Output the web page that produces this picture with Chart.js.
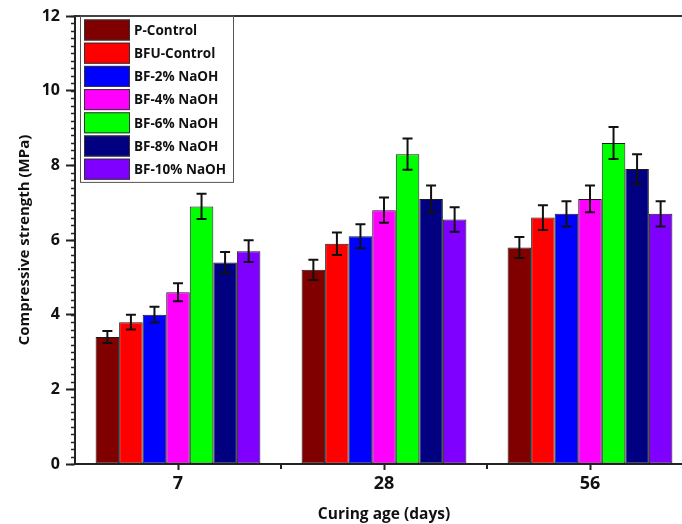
<!DOCTYPE html>
<html lang="en">
<head>
    <meta charset="UTF-8">
    <title>Compressive strength</title>
    <script src="https://cdn.jsdelivr.net/npm/chart.js"></script>
    <style>
        body {
            margin: 0;
            background: #fff;
            overflow: hidden;
        }
        .chart-box {
            width: 700px;
            height: 524px;
        }
    </style>
</head>
<body>
    <div class="chart-box">
        <canvas id="barChart" width="700" height="524"></canvas>
    </div>

    <script>
        // data
        var categories = ['7', '28', '56'];
        var seriesNames = ['P-Control', 'BFU-Control', 'BF-2% NaOH', 'BF-4% NaOH', 'BF-6% NaOH', 'BF-8% NaOH', 'BF-10% NaOH'];
        var pControl = [3.4, 5.2, 5.8];
        var bfuControl = [3.8, 5.9, 6.6];
        var bf2 = [4.0, 6.1, 6.7];
        var bf4 = [4.6, 6.8, 7.1];
        var bf6 = [6.9, 8.3, 8.6];
        var bf8 = [5.4, 7.1, 7.9];
        var bf10 = [5.7, 6.55, 6.7];
        // error bar half heights
        var pControlErr = [0.16, 0.27, 0.28];
        var bfuControlErr = [0.2, 0.3, 0.33];
        var bf2Err = [0.21, 0.32, 0.34];
        var bf4Err = [0.24, 0.34, 0.36];
        var bf6Err = [0.34, 0.42, 0.43];
        var bf8Err = [0.28, 0.36, 0.4];
        var bf10Err = [0.29, 0.33, 0.34];
        var yTicks = [0, 2, 4, 6, 8, 10, 12];

        var colors = ['#800000', '#ff0000', '#0000ff', '#ff00ff', '#00ff00', '#000080', '#8000ff'];
        var values = [pControl, bfuControl, bf2, bf4, bf6, bf8, bf10];
        var errors = [pControlErr, bfuControlErr, bf2Err, bf4Err, bf6Err, bf8Err, bf10Err];

        var datasets = seriesNames.map(function (name, i) {
            return {
                label: name,
                data: values[i],
                errors: errors[i],
                backgroundColor: colors[i],
                borderColor: '#1a1a1a',
                borderWidth: 1,
                borderSkipped: false,
                categoryPercentage: 0.8,
                barPercentage: 1.0
            };
        });

        var axisFont = 'Open Sans';

        // frame, minor ticks, error bars and the boxed legend
        var extrasPlugin = {
            id: 'extras',
            afterDatasetsDraw: function (chart) {
                var ctx = chart.ctx;
                var y = chart.scales.y;
                ctx.save();
                ctx.strokeStyle = '#111';
                ctx.lineWidth = 2;
                chart.data.datasets.forEach(function (ds, di) {
                    var meta = chart.getDatasetMeta(di);
                    meta.data.forEach(function (bar, i) {
                        var top = y.getPixelForValue(ds.data[i] + ds.errors[i]);
                        var bot = y.getPixelForValue(ds.data[i] - ds.errors[i]);
                        ctx.beginPath();
                        ctx.moveTo(bar.x, top);
                        ctx.lineTo(bar.x, bot);
                        ctx.moveTo(bar.x - 5, top);
                        ctx.lineTo(bar.x + 5, top);
                        ctx.moveTo(bar.x - 5, bot);
                        ctx.lineTo(bar.x + 5, bot);
                        ctx.stroke();
                    });
                });
                ctx.restore();
            },
            afterDraw: function (chart) {
                var ctx = chart.ctx;
                var area = chart.chartArea;
                var x = chart.scales.x;
                var y = chart.scales.y;
                ctx.save();

                // top and right frame
                ctx.strokeStyle = '#333';
                ctx.lineWidth = 2;
                ctx.beginPath();
                ctx.moveTo(area.left, area.top);
                ctx.lineTo(area.right, area.top);
                ctx.lineTo(area.right, area.bottom);
                ctx.stroke();

                // minor y ticks
                ctx.lineWidth = 1.5;
                ctx.strokeStyle = '#222';
                for (var v = 0; v <= 12.001; v += 0.2) {
                    var py = Math.round(y.getPixelForValue(v)) + 0.5;
                    ctx.beginPath();
                    ctx.moveTo(area.left - 4, py);
                    ctx.lineTo(area.left, py);
                    ctx.stroke();
                }

                // x ticks halfway between categories
                ctx.lineWidth = 2;
                for (var i = 0; i < categories.length; i++) {
                    var px = (x.getPixelForValue(i) + x.getPixelForValue(i + 1)) / 2;
                    ctx.beginPath();
                    ctx.moveTo(px, area.bottom);
                    ctx.lineTo(px, area.bottom + 5);
                    ctx.stroke();
                }

                // legend box
                var left = area.left + 5;
                var rowH = 23.2;
                var boxW = 153;
                var boxH = rowH * chart.data.datasets.length + 4;
                ctx.strokeStyle = '#555';
                ctx.lineWidth = 1;
                ctx.strokeRect(left + 0.5, area.top, boxW, boxH);
                ctx.font = 'bold 13.5px "' + axisFont + '"';
                ctx.textBaseline = 'middle';
                ctx.textAlign = 'left';
                chart.data.datasets.forEach(function (ds, di) {
                    var cy = area.top + 14 + di * rowH;
                    ctx.fillStyle = ds.backgroundColor;
                    ctx.fillRect(left + 4, cy - 10.5, 46, 21);
                    ctx.strokeStyle = '#333';
                    ctx.strokeRect(left + 4.5, cy - 10, 45, 20);
                    ctx.fillStyle = '#111';
                    ctx.fillText(ds.label, left + 54, cy + 1);
                });
                ctx.restore();
            }
        };

        var barChart = new Chart(document.getElementById('barChart').getContext('2d'), {
            type: 'bar',
            data: {
                labels: categories,
                datasets: datasets
            },
            options: {
                responsive: false,
                animation: false,
                layout: {
                    padding: { top: 16, right: 7, left: 0, bottom: 0 }
                },
                plugins: {
                    legend: { display: false },
                    tooltip: { enabled: false }
                },
                scales: {
                    x: {
                        afterFit: function (scale) { scale.height = 60; },
                        grid: {
                            display: true,
                            drawOnChartArea: false,
                            offset: false,
                            tickLength: 6,
                            tickWidth: 2,
                            tickColor: '#222'
                        },
                        border: { color: '#222', width: 2 },
                        ticks: {
                            color: '#111',
                            padding: 3,
                            font: { family: axisFont, size: 18, weight: 'bold' }
                        },
                        title: {
                            display: true,
                            text: 'Curing age (days)',
                            color: '#111',
                            padding: { top: 0, bottom: 0 },
                            font: { family: axisFont, size: 15.5, weight: 'bold' }
                        }
                    },
                    y: {
                        min: 0,
                        max: 12,
                        afterFit: function (scale) { scale.width = 75; },
                        afterBuildTicks: function (scale) {
                            scale.ticks = yTicks.map(function (v) { return { value: v }; });
                        },
                        grid: {
                            display: true,
                            drawOnChartArea: false,
                            tickLength: 9,
                            tickWidth: 2,
                            tickColor: '#222'
                        },
                        border: { color: '#222', width: 2 },
                        ticks: {
                            color: '#111',
                            padding: 6,
                            font: { family: axisFont, size: 16, weight: 'bold' }
                        },
                        title: {
                            display: true,
                            text: 'Compressive strength (MPa)',
                            color: '#111',
                            padding: { top: 16, bottom: 0 },
                            font: { family: axisFont, size: 15, weight: 'bold' }
                        }
                    }
                }
            },
            plugins: [extrasPlugin]
        });
    </script>
</body>
</html>
